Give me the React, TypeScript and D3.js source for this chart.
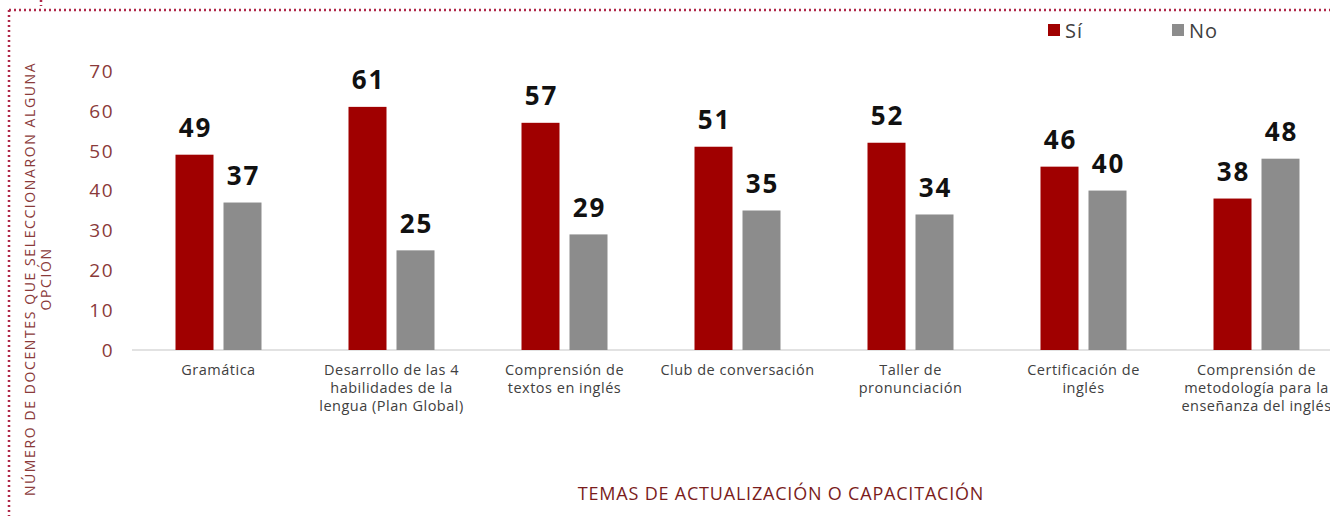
import React, { useEffect, useRef } from 'react';
import * as d3 from 'd3';

const categories = [
  ['Gramática'],
  ['Desarrollo de las 4', 'habilidades de la', 'lengua (Plan Global)'],
  ['Comprensión de', 'textos en inglés'],
  ['Club de conversación'],
  ['Taller de', 'pronunciación'],
  ['Certificación de', 'inglés'],
  ['Comprensión de', 'metodología para la', 'enseñanza del inglés'],
];
const siValues = [49, 61, 57, 51, 52, 46, 38];
const noValues = [37, 25, 29, 35, 34, 40, 48];
const yTicks = [0, 10, 20, 30, 40, 50, 60, 70];
const seriesNames = ['Sí', 'No'];
const colors = ['#a00000', '#8c8c8c'];

const FONT = '"Open Sans", "DejaVu Sans", sans-serif';

const App = () => {
  const svgRef = useRef<SVGSVGElement>(null);

  useEffect(() => {
    const svg = d3.select(svgRef.current);
    svg.selectAll('*').remove();

    const width = 1330;
    const height = 516;
    const plot = { left: 132, right: 1343, top: 71, bottom: 350 };

    // marco punteado
    const dotted = (x1: number, y1: number, x2: number, y2: number) =>
      svg.append('line')
        .attr('x1', x1).attr('x2', x2).attr('y1', y1).attr('y2', y2)
        .attr('stroke', '#b0284a').attr('stroke-width', 2.5).attr('stroke-dasharray', '2 3');
    dotted(9, 10, width, 10);
    dotted(9, 10, 9, height);
    dotted(41, 0, 41, 6);

    const x0 = d3.scaleBand<number>()
      .domain(d3.range(categories.length))
      .range([plot.left, plot.right]);
    const y = d3.scaleLinear().domain([0, 70]).range([plot.bottom, plot.top]);

    // eje Y
    svg.append('g')
      .selectAll('text')
      .data(yTicks)
      .enter()
      .append('text')
      .attr('x', 114)
      .attr('y', d => y(d))
      .attr('dy', '0.36em')
      .attr('text-anchor', 'end')
      .attr('font-family', FONT)
      .attr('font-size', 19)
      .attr('letter-spacing', 1.5)
      .attr('fill', '#8a3a3a')
      .text(d => d);

    // línea base
    svg.append('line')
      .attr('x1', plot.left).attr('x2', width)
      .attr('y1', plot.bottom).attr('y2', plot.bottom)
      .attr('stroke', '#d9d9d9').attr('stroke-width', 1.5);

    const barW = 38;
    const gap = 10;
    const series = [siValues, noValues];

    series.forEach((vals, s) => {
      const g = svg.append('g');
      const bx = (i: number) => x0(i)! + x0.bandwidth() / 2 + (s === 0 ? -gap / 2 - barW : gap / 2);
      g.selectAll('rect')
        .data(vals)
        .enter()
        .append('rect')
        .attr('x', (d, i) => bx(i))
        .attr('y', d => y(d))
        .attr('width', barW)
        .attr('height', d => y(0) - y(d))
        .attr('fill', colors[s]);
      g.selectAll('text')
        .data(vals)
        .enter()
        .append('text')
        .attr('x', (d, i) => bx(i) + barW / 2 + 1)
        .attr('y', d => y(d) - 17.5)
        .attr('text-anchor', 'middle')
        .attr('font-family', FONT)
        .attr('font-size', 26)
        .attr('font-weight', 'bold')
        .attr('letter-spacing', 2)
        .attr('fill', '#111')
        .text(d => d);
    });

    // etiquetas de categorías
    const catG = svg.append('g');
    categories.forEach((lines, i) => {
      const cx = x0(i)! + x0.bandwidth() / 2;
      const t = catG.append('text')
        .attr('x', cx)
        .attr('y', 375)
        .attr('text-anchor', 'middle')
        .attr('font-family', FONT)
        .attr('font-size', 14.5)
        .attr('letter-spacing', 0.5)
        .attr('fill', '#404040');
      lines.forEach((l, j) => {
        t.append('tspan')
          .attr('x', cx)
          .attr('dy', j === 0 ? 0 : 18)
          .text(l);
      });
    });

    // título eje X
    svg.append('text')
      .attr('x', 781).attr('y', 500)
      .attr('text-anchor', 'middle')
      .attr('font-family', FONT)
      .attr('font-size', 18)
      .attr('letter-spacing', 0.8)
      .attr('fill', '#7a1c1c')
      .text('TEMAS DE ACTUALIZACIÓN O CAPACITACIÓN');

    // título eje Y
    const yt = svg.append('text')
      .attr('transform', 'translate(35,279) rotate(-90)')
      .attr('text-anchor', 'middle')
      .attr('font-family', FONT)
      .attr('font-size', 14)
      .attr('letter-spacing', 1.6)
      .attr('fill', '#8a3a3a');
    yt.append('tspan').attr('x', 0).attr('dy', 0).text('NÚMERO DE DOCENTES QUE SELECCIONARON ALGUNA');
    yt.append('tspan').attr('x', 0).attr('dy', 15.5).text('OPCIÓN');

    // leyenda
    const leg = svg.append('g');
    const legX = [1048, 1172];
    seriesNames.forEach((n, i) => {
      leg.append('rect')
        .attr('x', legX[i]).attr('y', 24).attr('width', 12).attr('height', 12)
        .attr('fill', colors[i]);
      leg.append('text')
        .attr('x', legX[i] + 17).attr('y', 38)
        .attr('font-family', FONT)
        .attr('font-size', 20)
        .attr('letter-spacing', 1)
        .attr('fill', '#404040')
        .text(n);
    });
  }, []);

  return <svg ref={svgRef} width={1330} height={516} style={{ position: 'absolute', left: 0, top: 0 }}></svg>;
};

export default App;
